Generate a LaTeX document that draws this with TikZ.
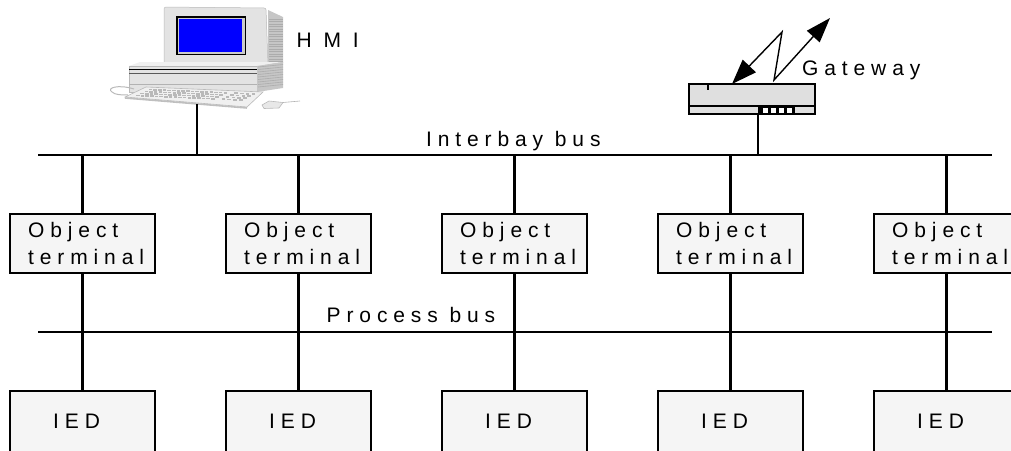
\documentclass[tikz,border=0pt]{standalone}
\usepackage{fontspec}
\setmainfont{Liberation Sans}
\newfontfamily\lsfont[LetterSpace=28]{Liberation Sans}
\usetikzlibrary{arrows.meta}
\begin{document}
\begin{tikzpicture}[x=1pt,y=-1pt,
  bus/.style={line width=2.1pt},
  link/.style={line width=2.1pt},
  otbox/.style={draw, line width=1.9pt, fill=gray!8, minimum width=145pt, minimum height=59pt, inner sep=0pt, outer sep=0pt},
  iedbox/.style={draw, line width=1.9pt, fill=gray!8, minimum width=145pt, minimum height=64pt, inner sep=0pt, outer sep=0pt},
  lbl/.style={font=\lsfont\fontsize{21}{25}\selectfont, inner sep=0pt, anchor=base west},
  vent/.style={gray!65, line width=0.6pt},
  dbl/.style={line width=1.4pt, {Triangle[length=25pt,width=18pt]}-{Triangle[length=25pt,width=17pt]}}
]
\useasboundingbox (0,0) rectangle (1011,450);

% ---------- buses ----------
\coordinate (ibL) at (38,155);
\coordinate (ibR) at (992,155);
\coordinate (pbL) at (38,332);
\coordinate (pbR) at (992,332);
\draw[bus] (ibL) -- (ibR);
\draw[bus] (pbL) -- (pbR);
\node[lbl] (iblbl) at (426,146) {Interbay bus};
\node[lbl] (pblbl) at (326.5,322) {Process bus};

% ---------- bays ----------
\foreach \i in {1,...,5}{
  \pgfmathsetmacro\cx{82.5+216*(\i-1)}
  \node[otbox] (ot\i) at (\cx,243.5) {};
  \node[iedbox] (ied\i) at (\cx,423) {};
  \draw[link] (ot\i.north) -- (ot\i.north |- ibL);
  \draw[link] (ot\i.south) -- (ied\i.north);
  \node[lbl] (ota\i) at (\cx-54.5,237) {Object};
  \node[lbl] (otb\i) at (\cx-54.5,264) {terminal};
  \node[lbl] (iedl\i) at (\cx-29.5,428) {IED};
}

% ---------- HMI computer ----------
% monitor side
\fill[gray!45] (268,10) -- (283,17) -- (283,63) -- (268,65) -- cycle;
\foreach \v in {19,21.5,...,62}{\draw[vent] (269,\v) -- (283,\v);}
% monitor front
\fill[gray!22, draw=gray!55, line width=0.5pt, rounded corners=2pt] (164,7) -- (266,8) -- (268,65) -- (164,65) -- cycle;
\fill[black] (176,16) rectangle (246,55);
\fill[gray!40] (177.5,17.5) rectangle (244.5,53.5);
\fill[blue] (179,19) rectangle (242,52);
\fill[green!60!black] (241,62) rectangle (245,64);
% base unit
\fill[gray!12] (129,66) -- (140,62) -- (283,62) -- (257,66) -- cycle;
\fill[gray!22, draw=gray!55, line width=0.5pt] (129,66) rectangle (257,92);
\fill[gray!45] (257,66) -- (283,62) -- (283,88) -- (257,92) -- cycle;
\foreach \v in {67,69.5,...,89}{\draw[vent] (258,\v) -- (283,\v-2.5);}
\draw[black, line width=1.2pt] (129,69.5) -- (257,69.5);
\draw[gray!70!black, line width=0.8pt] (129,73) -- (257,73);
\draw[gray!60, line width=0.6pt] (129,84) -- (257,84);
% cable
\draw[gray!55, line width=1pt] (134,89) .. controls (118,84) and (106,88) .. (112,92) .. controls (115,95) and (122,95) .. (128,95);
% keyboard
\fill[gray!12, draw=gray!55, line width=0.6pt] (125,97) -- (146,87) -- (263,92) -- (247,107) -- cycle;
\foreach \b in {0.15,0.35,0.55,0.75}{
  \foreach \a in {0.05,0.09,...,0.70}{
    \fill[gray!55] ({146+117*\a-21*\b},{87+5*\a+10*\b}) rectangle ++(3.6,1.6);
  }
  \foreach \a in {0.78,0.83,...,0.96}{
    \fill[gray!55] ({146+117*\a-21*\b},{87+5*\a+10*\b}) rectangle ++(3.6,1.6);
  }
}
\draw[gray!50, line width=1.6pt] (125,98) -- (247,108);
% mouse
\fill[gray!18, draw=gray!55, line width=0.6pt] (262,105) -- (269,101) -- (283,102.5) -- (279,108) -- (264,108.5) -- cycle;
\draw[gray!60, line width=0.6pt] (283,102.5) -- (300,101);
\coordinate (hmi) at (197,104);
\draw[link] (hmi) -- (hmi |- ibL);
\node[lbl] (hmilbl) at (296.5,47) {H M I};

% ---------- gateway ----------
\node[draw, line width=1.5pt, fill=gray!25, minimum width=126pt, minimum height=30pt, inner sep=0pt, outer sep=0pt] (gw) at (752,99) {};
\draw[line width=1.5pt] (gw.west |- 0,106) -- (gw.east |- 0,106);
\draw[line width=1.5pt] (708,84) -- (708,90);
\fill[black] (758,106.5) rectangle (795,113.5);
\foreach \s in {763,771,779,787}{\fill[white] (\s,107.5) rectangle ++(5,5);}
\coordinate (gwport) at (758,114);
\draw[link] (gwport) -- (gwport |- ibL);
\coordinate (zA) at (732,84);
\coordinate (zB) at (782,32);
\coordinate (zC) at (774,80);
\coordinate (zD) at (830,18);
\draw[dbl] (zA) -- (zB) -- (zC) -- (zD);
\node[lbl] (gwlbl) at (802,75) {Gateway};
\end{tikzpicture}
\end{document}
